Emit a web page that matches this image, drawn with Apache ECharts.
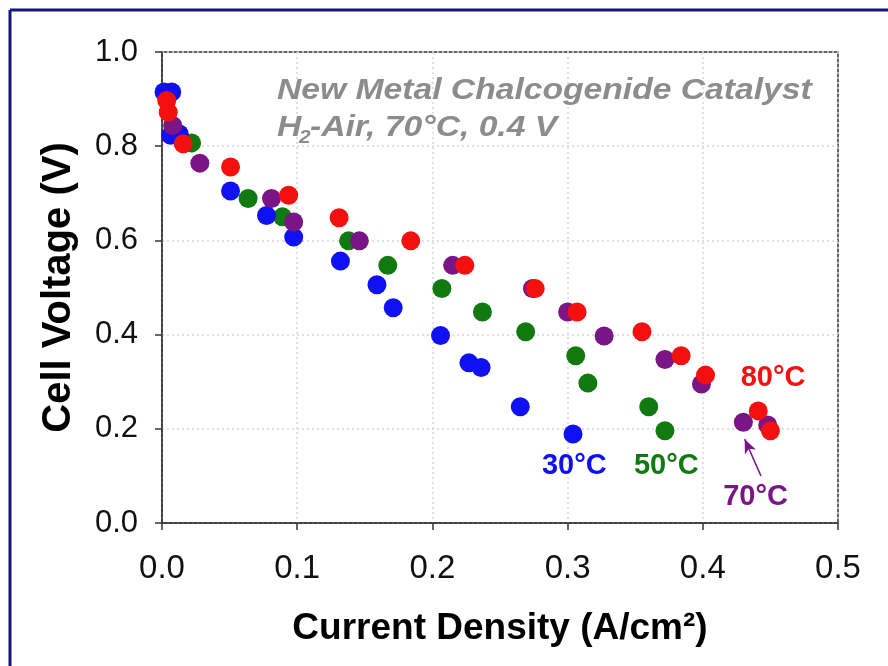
<!DOCTYPE html>
<html>
<head>
<meta charset="utf-8">
<script src="https://cdn.jsdelivr.net/npm/echarts@6/dist/echarts.min.js"></script>
<style>
html,body{margin:0;padding:0;background:#fff;}
#c{width:888px;height:666px;}
</style>
</head>
<body>
<div id="c"></div>
<script>
// ---- data (current density A/cm2, cell voltage V) ----
const xTicks = [0.0, 0.1, 0.2, 0.3, 0.4, 0.5];
const yTicks = [0.0, 0.2, 0.4, 0.6, 0.8, 1.0];

const j30 = [0.0015, 0.0072, 0.0064, 0.0128, 0.0507, 0.0773, 0.0974, 0.132, 0.159, 0.171, 0.206, 0.227, 0.236, 0.265, 0.304];
const v30 = [0.915, 0.915, 0.823, 0.826, 0.705, 0.653, 0.607, 0.556, 0.506, 0.457, 0.398, 0.340, 0.330, 0.247, 0.189];

const j50 = [0.0035, 0.0219, 0.0637, 0.0891, 0.138, 0.167, 0.207, 0.237, 0.269, 0.306, 0.315, 0.360, 0.372];
const v50 = [0.908, 0.807, 0.689, 0.650, 0.599, 0.547, 0.498, 0.448, 0.406, 0.355, 0.297, 0.247, 0.196];

const j70 = [0.0079, 0.028, 0.081, 0.0974, 0.146, 0.215, 0.274, 0.300, 0.327, 0.372, 0.399, 0.430, 0.448];
const v70 = [0.844, 0.764, 0.689, 0.639, 0.599, 0.547, 0.498, 0.448, 0.397, 0.347, 0.295, 0.214, 0.208];

const j80 = [0.0035, 0.0046, 0.0157, 0.0507, 0.0937, 0.131, 0.184, 0.224, 0.276, 0.307, 0.355, 0.384, 0.402, 0.441, 0.450];
const v80 = [0.897, 0.872, 0.805, 0.756, 0.696, 0.648, 0.599, 0.547, 0.498, 0.448, 0.406, 0.355, 0.314, 0.238, 0.196];

const seriesNames = ['30°C', '50°C', '70°C', '80°C'];
const labelPos = {
  '30°C': [0.305, 0.121],
  '50°C': [0.373, 0.121],
  '70°C': [0.439, 0.055],
  '80°C': [0.452, 0.308]
};
const arrow70 = [[0.443, 0.100], [0.431, 0.178]];

const colors = {'30°C':'#1010f5', '50°C':'#107a10', '70°C':'#7a1585', '80°C':'#f51010'};

function pairs(xs, ys){ return xs.map((x,i)=>[x, ys[i]]); }
const dataMap = {
  '30°C': pairs(j30, v30),
  '50°C': pairs(j50, v50),
  '70°C': pairs(j70, v70),
  '80°C': pairs(j80, v80)
};

const FONT = 'Liberation Sans, Arial, Helvetica, sans-serif';
const drawOrder = ['50°C', '30°C', '70°C', '80°C'];

const series = drawOrder.map(name => {
  const s = {
    name: name,
    type: 'scatter',
    data: dataMap[name],
    symbol: 'circle',
    symbolSize: 19,
    itemStyle: {color: colors[name], opacity: 1},
    markPoint: {
      symbol: 'circle', symbolSize: 0, silent: true,
      data: [{coord: labelPos[name], value: name}],
      label: {show: true, position: 'inside', formatter: name, color: colors[name],
              fontFamily: FONT, fontWeight: 'bold', fontSize: 29}
    }
  };
  if (name === '70°C') {
    s.markLine = {
      silent: true, symbol: ['none', 'arrow'], symbolSize: [9, 14],
      lineStyle: {color: colors[name], width: 1.5, type: 'solid'},
      label: {show: false},
      data: [[{coord: arrow70[0]}, {coord: arrow70[1]}]]
    };
  }
  return s;
});

const gray = '#8c8c8c';
const chart = echarts.init(document.getElementById('c'), null, {renderer: 'canvas'});
chart.setOption({
  animation: false,
  backgroundColor: '#ffffff',
  grid: {left: 162, right: 50, top: 52, bottom: 143, show: true,
         borderColor: '#333', borderWidth: 1.5, backgroundColor: '#fff'},
  xAxis: {
    type: 'value', min: xTicks[0], max: xTicks[xTicks.length-1], interval: 0.1,
    name: 'Current Density (A/cm²)', nameLocation: 'middle', nameGap: 87,
    nameTextStyle: {fontFamily: FONT, fontWeight: 'bold', fontSize: 37, color: '#000'},
    axisLine: {show: true, lineStyle: {color: '#333', width: 1.5}},
    axisTick: {show: true, length: 7, lineStyle: {color: '#333', width: 1.5}},
    axisLabel: {fontFamily: FONT, fontSize: 33, color: '#111', margin: 29,
                formatter: v => v.toFixed(1)},
    splitLine: {show: true, lineStyle: {color: '#d6d6d6', type: [2, 3], width: 1.5}}
  },
  yAxis: {
    type: 'value', min: yTicks[0], max: yTicks[yTicks.length-1], interval: 0.2,
    name: 'Cell Voltage (V)', nameLocation: 'middle', nameGap: 83,
    nameTextStyle: {fontFamily: FONT, fontWeight: 'bold', fontSize: 40, color: '#000'},
    axisLine: {show: true, lineStyle: {color: '#333', width: 1.5}},
    axisTick: {show: true, length: 7, lineStyle: {color: '#333', width: 1.5}},
    axisLabel: {fontFamily: FONT, fontSize: 31, color: '#111', margin: 24,
                formatter: v => v.toFixed(1)},
    splitLine: {show: true, lineStyle: {color: '#d6d6d6', type: [2, 3], width: 1.5}}
  },
  graphic: [
    {type: 'line', shape: {x1: 10, y1: 10, x2: 888, y2: 10}, style: {stroke: '#16167e', lineWidth: 3}, z: 100},
    {type: 'line', shape: {x1: 10, y1: 10, x2: 10, y2: 666}, style: {stroke: '#16167e', lineWidth: 3}, z: 100},
    {type: 'text', x: 277, y: 91, scaleX: 1.16, z: 100,
     style: {text: 'New Metal Chalcogenide Catalyst', fill: gray, font: 'italic bold 29px ' + FONT,
             textVerticalAlign: 'middle', verticalAlign: 'middle'}},
    {type: 'text', x: 277, y: 128, scaleX: 1.16, z: 100,
     style: {text: 'H', fill: gray, font: 'italic bold 29px ' + FONT,
             textVerticalAlign: 'middle', verticalAlign: 'middle'}},
    {type: 'text', x: 299, y: 138, scaleX: 1.16, z: 100,
     style: {text: '2', fill: gray, font: 'italic bold 18px ' + FONT,
             textVerticalAlign: 'middle', verticalAlign: 'middle'}},
    {type: 'text', x: 310, y: 128, scaleX: 1.16, z: 100,
     style: {text: '-Air, 70°C, 0.4 V', fill: gray, font: 'italic bold 29px ' + FONT,
             textVerticalAlign: 'middle', verticalAlign: 'middle'}}
  ],
  series: series
});
</script>
</body>
</html>
